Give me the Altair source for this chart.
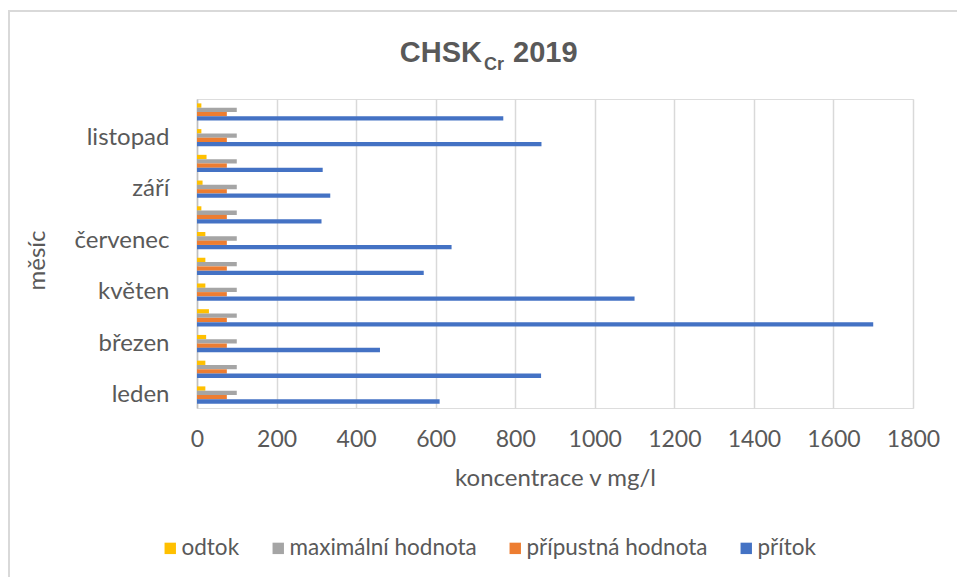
import altair as alt
import pandas as pd

months = ["leden", "únor", "březen", "duben", "květen", "červen",
          "červenec", "srpen", "září", "říjen", "listopad", "prosinec"]
pritok = [610, 865, 460, 1700, 1100, 570, 640, 313, 335, 316, 866, 770]
pripustna = [75] * 12
maximalni = [100] * 12
odtok = [21, 21, 23, 30, 21, 21, 21, 11, 14, 24, 11, 11]

series = ["odtok", "maximální hodnota", "přípustná hodnota", "přítok"]
colors = ["#FFC000", "#A5A5A5", "#ED7D31", "#4472C4"]
shown_months = ["leden", "březen", "květen", "červenec", "září", "listopad"]
x_ticks = [0, 200, 400, 600, 800, 1000, 1200, 1400, 1600, 1800]

rows = []
for i, m in enumerate(months):
    rows.append({"mesic": m, "rada": "odtok", "hodnota": odtok[i]})
    rows.append({"mesic": m, "rada": "maximální hodnota", "hodnota": maximalni[i]})
    rows.append({"mesic": m, "rada": "přípustná hodnota", "hodnota": pripustna[i]})
    rows.append({"mesic": m, "rada": "přítok", "hodnota": pritok[i]})
df = pd.DataFrame(rows)

FONT = "Lato"
TFONT = "Liberation Sans, Arial, sans-serif"
GREY = "#595959"

bars = alt.Chart(df).mark_bar().encode(
    y=alt.Y("mesic:N", sort=months[::-1],
            scale=alt.Scale(paddingInner=0.33, paddingOuter=0.17),
            axis=alt.Axis(values=shown_months, title="měsíc", ticks=False,
                          domainColor="#BFBFBF", domainWidth=1.5,
                          labelFont=FONT, labelFontSize=24, labelColor=GREY,
                          labelPadding=28, grid=False, labelLimit=0,
                          titleFont=FONT, titleFontSize=24, titleFontWeight="normal",
                          titleColor=GREY, titleX=-160, titleY=161,
                          titleAlign="center", titleBaseline="middle", titleAngle=270)),
    yOffset=alt.YOffset("rada:N", sort=series,
                        scale=alt.Scale(paddingInner=0, paddingOuter=0)),
    x=alt.X("hodnota:Q", scale=alt.Scale(domain=[0, 1800], nice=False),
            axis=alt.Axis(values=x_ticks, title="koncentrace v mg/l", format="d",
                          domain=False, ticks=False, grid=True,
                          gridColor="#D9D9D9", gridWidth=1.5,
                          labelFont=FONT, labelFontSize=23, labelColor=GREY,
                          labelPadding=20, labelOverlap=False, labelFlush=False,
                          titleFont=FONT, titleFontSize=24, titleFontWeight="normal",
                          titleColor=GREY, titleY=70, titleBaseline="middle")),
    color=alt.Color("rada:N", sort=series,
                    scale=alt.Scale(domain=series, range=colors),
                    legend=alt.Legend(title=None, orient="none", direction="horizontal",
                                      legendX=-44, legendY=438,
                                      symbolType="square", symbolSize=130,
                                      symbolStrokeWidth=0, symbolOpacity=1,
                                      symbolOffset=6,
                                      labelFont=FONT, labelFontSize=22.5, labelLimit=0,
                                      labelColor=GREY, columnPadding=21,
                                      labelOffset=0)),
)

one = pd.DataFrame({"t": [""]})
t1 = alt.Chart(one).mark_text(text="CHSK", font=TFONT, fontSize=29,
                              fontWeight="bold", color=GREY, align="right",
                              baseline="alphabetic").encode(
    x=alt.value(285), y=alt.value(-37))
t2 = alt.Chart(one).mark_text(text="Cr", font=TFONT, fontSize=18,
                              fontWeight="bold", color=GREY, align="left",
                              baseline="alphabetic").encode(
    x=alt.value(287), y=alt.value(-29))
t3 = alt.Chart(one).mark_text(text="2019", font=TFONT, fontSize=29,
                              fontWeight="bold", color=GREY, align="left",
                              baseline="alphabetic").encode(
    x=alt.value(316), y=alt.value(-37))
border = alt.Chart(one).mark_rect(fill=None, stroke="#D9D9D9", strokeWidth=2).encode(
    x=alt.value(-188), y=alt.value(-88), x2=alt.value(900), y2=alt.value(600))

chart = alt.layer(border, bars, t1, t2, t3).properties(
    width=716, height=309,
    autosize=alt.AutoSizeParams(type="none"),
    padding={"left": 189, "top": 91, "right": 44, "bottom": 169},
).configure_view(stroke=None).configure(background="white")

chart.save("out.html", embed_options={"renderer": "svg", "actions": False})
